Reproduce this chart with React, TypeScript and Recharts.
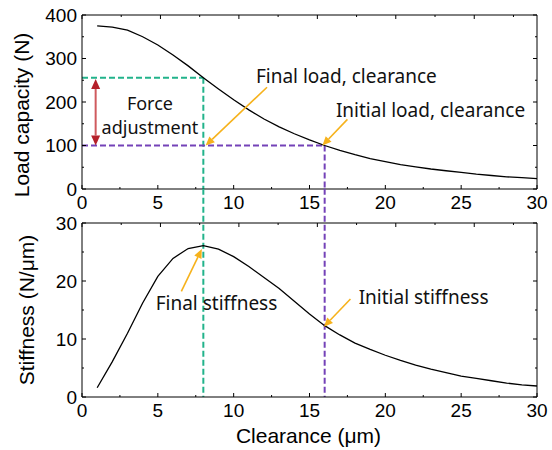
import { LineChart, Line, XAxis, YAxis, ReferenceLine, ReferenceDot } from 'recharts'

const clearance = [1, 2, 3, 4, 5, 6, 7, 8, 9, 10, 11, 12, 13, 14, 15, 16, 17, 18, 19, 20, 21, 22, 23, 24, 25, 26, 27, 28, 29, 30]
const loadCapacity = [375, 372, 365, 350, 331, 308, 283, 256, 230, 205, 182, 161, 143, 127, 113, 100, 89, 79, 70, 63, 56, 51, 46, 42, 38, 34, 31, 28, 26, 24]
const stiffness = [1.6, 6.1, 11.0, 16.2, 20.8, 23.9, 25.6, 26.1, 25.5, 24.2, 22.5, 20.6, 18.7, 16.5, 14.3, 12.3, 10.7, 9.3, 8.2, 7.2, 6.3, 5.5, 4.8, 4.2, 3.6, 3.2, 2.8, 2.4, 2.1, 1.9]

const xTicks = [0, 2.5, 5, 7.5, 10, 12.5, 15, 17.5, 20, 22.5, 25, 27.5, 30]
const loadTicks = [0, 50, 100, 150, 200, 250, 300, 350, 400]
const stiffTicks = [0, 5, 10, 15, 20, 25, 30]

// operating points: [clearance, load, stiffness]
const finalPoint = [8, 256, 26.1]
const initialPoint = [16, 100, 12.3]
// top of the lower plot's line reaching up to the upper plot's baseline
const gapTop = 35.9

// arrows: [fromX, fromY, toX, toY]
const forceArrow = [0.9, 253, 0.9, 100]
const finalLoadArrow = [12.2, 234, 8.15, 100]
const initialLoadArrow = [17.5, 160, 15.85, 100]
const finalStiffArrow = [6.55, 18.2, 7.9, 25.5]
const initialStiffArrow = [17.7, 16.9, 15.95, 12.1]

const loadData = clearance.map((c, i) => ({ c, v: loadCapacity[i] }))
const stiffData = clearance.map((c, i) => ({ c, v: stiffness[i] }))

const TICK_FONT = '"Liberation Sans", Arial, sans-serif'
const NOTE_FONT = '"Noto Sans", sans-serif'
const GREEN = '#22b38b'
const PURPLE = '#7442b8'
const YELLOW = '#f6b21c'

const makeTick = (side: string, majorEvery: number, label: boolean) => (props: any) => {
  const { x, y, payload } = props
  const v = payload.value as number
  const major = Math.abs(v / majorEvery - Math.round(v / majorEvery)) < 1e-6
  const len = major ? 4 : 2
  let x2 = x
  let y2 = y
  if (side === 'bottom') y2 = y - len
  if (side === 'top') y2 = y + len
  if (side === 'left') x2 = x + len
  if (side === 'right') x2 = x - len
  return (
    <g>
      <line x1={x} y1={y} x2={x2} y2={y2} stroke="#000" strokeWidth={1} />
      {label && major && side === 'bottom' && (
        <text x={x} y={y + 13} dy="0.35em" textAnchor="middle" fontFamily={TICK_FONT} fontSize={19} fill="#000">{v}</text>
      )}
      {label && major && side === 'left' && (
        <text x={x - 5} y={y} dy="0.35em" textAnchor="end" fontFamily={TICK_FONT} fontSize={19} fill="#000">{v}</text>
      )}
    </g>
  )
}

const yTitle = (text: string, offset: number, shift: number) => ({
  content: (p: any) => {
    const vb = p.viewBox
    const cx = vb.x + vb.width - offset
    const cy = vb.y + vb.height / 2 + shift
    return (
      <text x={cx} y={cy} dy="0.35em" transform={`rotate(-90 ${cx} ${cy})`} textAnchor="middle" fontFamily={TICK_FONT} fontSize={21} fill="#000">
        {text}
      </text>
    )
  },
})

const xTitle = (text: string) => ({
  content: (p: any) => {
    const vb = p.viewBox
    return (
      <text x={vb.x + vb.width / 2 - 1} y={vb.y + 46} textAnchor="middle" fontFamily={TICK_FONT} fontSize={21} fill="#000">
        {text}
      </text>
    )
  },
})

function arrowHead(x1: number, y1: number, x2: number, y2: number, len: number, half: number) {
  const d = Math.hypot(x2 - x1, y2 - y1) || 1
  const ux = (x2 - x1) / d
  const uy = (y2 - y1) / d
  const bx = x2 - ux * len
  const by = y2 - uy * len
  return { bx, by, points: `${x2},${y2} ${bx - uy * half},${by + ux * half} ${bx + uy * half},${by - ux * half}` }
}

const arrowShape = (color: string, headColor: string, width: number, len: number, half: number, both: boolean) => (p: any) => {
  const { x1, y1, x2, y2 } = p
  const end = arrowHead(x1, y1, x2, y2, len, half)
  const start = both ? arrowHead(x2, y2, x1, y1, len, half) : null
  return (
    <g>
      <line x1={start ? start.bx : x1} y1={start ? start.by : y1} x2={end.bx} y2={end.by} stroke={color} strokeWidth={width} />
      <polygon points={end.points} fill={headColor} />
      {start && <polygon points={start.points} fill={headColor} />}
    </g>
  )
}

const note = (text: string, anchor: string, size = 19) => (p: any) => (
  <text x={p.cx} y={p.cy} dy="0.35em" textAnchor={anchor} fontFamily={NOTE_FONT} fontSize={size} fill="#111">
    {text}
  </text>
)

const seg = (a: number[]) => [
  { x: a[0], y: a[1] },
  { x: a[2], y: a[3] },
]

const dash = { strokeDasharray: '6 3', strokeWidth: 2 }
const frame = { stroke: '#000', strokeWidth: 1 }

export default function App() {
  return (
    <div style={{ position: 'absolute', left: 0, top: 0, width: 552, height: 450, background: '#fff' }}>
      <div style={{ position: 'absolute', left: 0, top: 0 }}>
        <LineChart width={552} height={450} data={loadData} margin={{ top: 14, right: 14, bottom: 260, left: 81 }}>
          <XAxis dataKey="c" type="number" domain={[0, 30]} ticks={xTicks} interval={0} height={1} tickSize={0} tickMargin={0} tickLine={false} axisLine={frame} tick={makeTick('bottom', 5, true)} />
          <XAxis xAxisId="top" orientation="top" type="number" domain={[0, 30]} allowDataOverflow ticks={xTicks} interval={0} height={1} tickSize={0} tickMargin={0} tickLine={false} axisLine={frame} tick={makeTick('top', 5, false)} />
          <YAxis type="number" domain={[0, 400]} ticks={loadTicks} interval={0} width={1} tickSize={0} tickMargin={0} tickLine={false} axisLine={frame} tick={makeTick('left', 100, true)} label={yTitle('Load capacity (N)', 60, 13)} />
          <YAxis yAxisId="right" orientation="right" type="number" domain={[0, 400]} allowDataOverflow ticks={loadTicks} interval={0} width={1} tickSize={0} tickMargin={0} tickLine={false} axisLine={frame} tick={makeTick('right', 100, false)} />
          <ReferenceLine segment={[{ x: 0, y: finalPoint[1] }, { x: finalPoint[0], y: finalPoint[1] }]} stroke={GREEN} {...dash} ifOverflow="visible" />
          <ReferenceLine segment={[{ x: finalPoint[0], y: finalPoint[1] }, { x: finalPoint[0], y: 0 }]} stroke={GREEN} {...dash} ifOverflow="visible" />
          <ReferenceLine segment={[{ x: 0, y: initialPoint[1] }, { x: initialPoint[0], y: initialPoint[1] }]} stroke={PURPLE} {...dash} ifOverflow="visible" />
          <ReferenceLine segment={[{ x: initialPoint[0], y: initialPoint[1] }, { x: initialPoint[0], y: 0 }]} stroke={PURPLE} {...dash} ifOverflow="visible" />
          <Line dataKey="v" stroke="#000" strokeWidth={1.3} dot={false} type="linear" isAnimationActive={false} />
          <ReferenceLine segment={seg(forceArrow)} ifOverflow="visible" shape={arrowShape('#cf5a5e', '#b5202a', 2, 10, 4.5, true)} />
          <ReferenceLine segment={seg(finalLoadArrow)} ifOverflow="visible" shape={arrowShape(YELLOW, YELLOW, 1.6, 9, 4, false)} />
          <ReferenceLine segment={seg(initialLoadArrow)} ifOverflow="visible" shape={arrowShape(YELLOW, YELLOW, 1.6, 9, 4, false)} />
          <ReferenceDot x={4.48} y={196} shape={note('Force', 'middle', 18)} />
          <ReferenceDot x={4.48} y={140.5} shape={note('adjustment', 'middle', 18)} />
          <ReferenceDot x={11.47} y={259.4} shape={note('Final load, clearance', 'start')} />
          <ReferenceDot x={16.74} y={181.6} shape={note('Initial load, clearance', 'start')} />
        </LineChart>
      </div>
      <div style={{ position: 'absolute', left: 0, top: 0 }}>
        <LineChart width={552} height={450} data={stiffData} margin={{ top: 222, right: 14, bottom: 52, left: 81 }}>
          <XAxis dataKey="c" type="number" domain={[0, 30]} ticks={xTicks} interval={0} height={1} tickSize={0} tickMargin={0} tickLine={false} axisLine={frame} tick={makeTick('bottom', 5, true)} label={xTitle('Clearance (μm)')} />
          <XAxis xAxisId="top" orientation="top" type="number" domain={[0, 30]} allowDataOverflow ticks={xTicks} interval={0} height={1} tickSize={0} tickMargin={0} tickLine={false} axisLine={frame} tick={makeTick('top', 5, false)} />
          <YAxis type="number" domain={[0, 30]} ticks={stiffTicks} interval={0} width={1} tickSize={0} tickMargin={0} tickLine={false} axisLine={frame} tick={makeTick('left', 10, true)} label={yTitle('Stiffness (N/μm)', 55, 0)} />
          <YAxis yAxisId="right" orientation="right" type="number" domain={[0, 30]} allowDataOverflow ticks={stiffTicks} interval={0} width={1} tickSize={0} tickMargin={0} tickLine={false} axisLine={frame} tick={makeTick('right', 10, false)} />
          <ReferenceLine segment={[{ x: finalPoint[0], y: gapTop }, { x: finalPoint[0], y: 0 }]} stroke={GREEN} {...dash} ifOverflow="visible" />
          <ReferenceLine segment={[{ x: initialPoint[0], y: gapTop }, { x: initialPoint[0], y: 0 }]} stroke={PURPLE} {...dash} ifOverflow="visible" />
          <Line dataKey="v" stroke="#000" strokeWidth={1.3} dot={false} type="linear" isAnimationActive={false} />
          <ReferenceLine segment={seg(finalStiffArrow)} ifOverflow="visible" shape={arrowShape(YELLOW, YELLOW, 1.6, 9, 4, false)} />
          <ReferenceLine segment={seg(initialStiffArrow)} ifOverflow="visible" shape={arrowShape(YELLOW, YELLOW, 1.6, 9, 4, false)} />
          <ReferenceDot x={4.86} y={16.16} shape={note('Final stiffness', 'start')} />
          <ReferenceDot x={18.24} y={17.2} shape={note('Initial stiffness', 'start')} />
        </LineChart>
      </div>
    </div>
  )
}
